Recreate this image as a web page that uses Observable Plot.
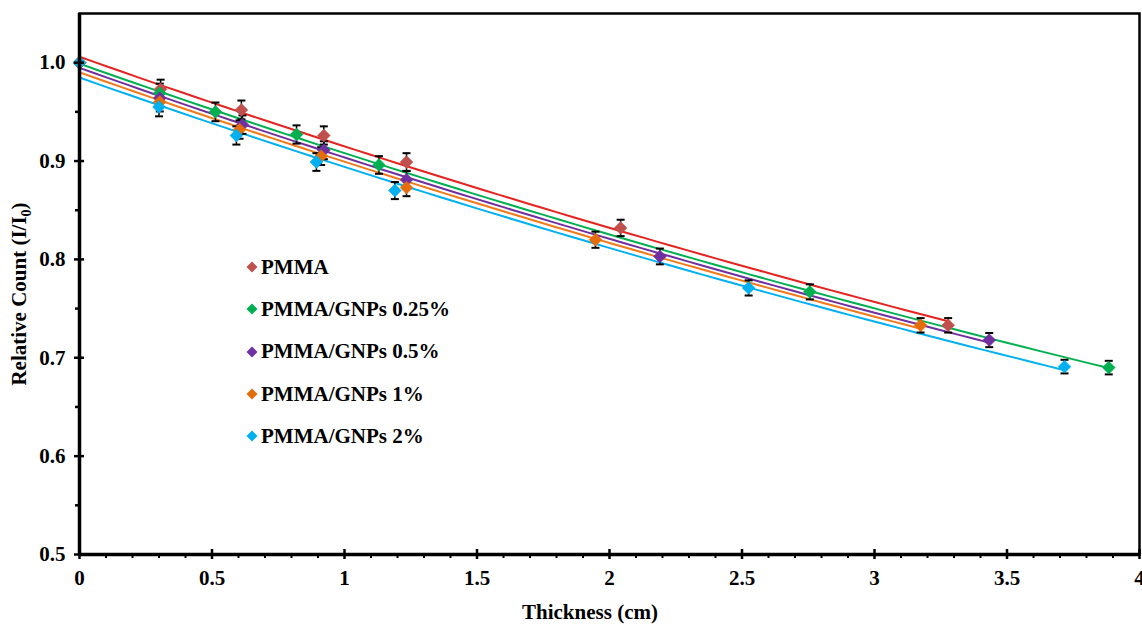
<!DOCTYPE html>
<html><head><meta charset="utf-8">
<script src="https://cdn.jsdelivr.net/npm/d3@7"></script>
<script src="https://cdn.jsdelivr.net/npm/@observablehq/plot@0.6"></script>
<style>
body{margin:0;background:#fff;}
#wrap{position:relative;width:1142px;height:627px;overflow:hidden;font-family:"Liberation Serif","Times New Roman",serif;}
#legend{position:absolute;left:246px;top:246px;}
.item{height:42.3px;display:flex;align-items:center;font-weight:bold;font-size:21px;color:#000;}
.item svg{margin-right:3px;}
</style></head><body><div id="wrap"><div id="legend"></div></div>
<script>
// ---- data ----
const series = ["PMMA", "PMMA/GNPs 0.25%", "PMMA/GNPs 0.5%", "PMMA/GNPs 1%", "PMMA/GNPs 2%"];
const markerColors = ["#C0504D", "#00B050", "#7030A0", "#E46C0A", "#00B0F0"];
const lineColors = ["#E5231F", "#00B050", "#7030A0", "#F07A1A", "#00B0F0"];

const thicknessPMMA = [0, 0.306, 0.611, 0.922, 1.234, 2.042, 3.278];
const countPMMA     = [1.0, 0.973, 0.952, 0.926, 0.899, 0.832, 0.733];
const thicknessG025 = [0, 0.303, 0.513, 0.819, 1.130, 2.756, 3.884];
const countG025     = [1.0, 0.969, 0.950, 0.927, 0.896, 0.767, 0.690];
const thicknessG05  = [0, 0.303, 0.615, 0.922, 1.234, 2.190, 3.433];
const countG05      = [1.0, 0.964, 0.937, 0.911, 0.881, 0.803, 0.718];
const thicknessG1   = [0, 0.303, 0.604, 0.912, 1.234, 1.947, 3.174];
const countG1       = [1.0, 0.960, 0.932, 0.905, 0.873, 0.820, 0.733];
const thicknessG2   = [0, 0.300, 0.592, 0.894, 1.190, 2.525, 3.717];
const countG2       = [1.0, 0.955, 0.926, 0.899, 0.870, 0.771, 0.691];
const relError = 0.01; // error bars, fraction of value

const xMajor = [0, 0.5, 1, 1.5, 2, 2.5, 3, 3.5, 4];
const xTickLabels = ["0", "0.5", "1", "1.5", "2", "2.5", "3", "3.5", "4"];
const yMajor = [0.5, 0.6, 0.7, 0.8, 0.9, 1.0];
const yTickLabels = ["0.5", "0.6", "0.7", "0.8", "0.9", "1.0"];
// ---- end data ----

const xsAll = [thicknessPMMA, thicknessG025, thicknessG05, thicknessG1, thicknessG2];
const ysAll = [countPMMA, countG025, countG05, countG1, countG2];

const points = [];
series.forEach((s, i) => xsAll[i].forEach((x, j) => points.push({series: s, x, y: ysAll[i][j]})));
const errs = points.filter(d => d.x > 0).map(d => ({...d, lo: d.y * (1 - relError), hi: d.y * (1 + relError)}));

// exponential (Excel-style) trendline fitted on each series
const fits = [];
series.forEach((s, i) => {
  const xs = xsAll[i], ly = ysAll[i].map(Math.log);
  const mx = d3.mean(xs), my = d3.mean(ly);
  const b = d3.sum(xs, (x, k) => (x - mx) * (ly[k] - my)) / d3.sum(xs, x => (x - mx) ** 2);
  const a = my - b * mx;
  const xmax = d3.max(xs);
  d3.range(0, 61).forEach(k => { const x = xmax * k / 60; fits.push({series: s, x, y: Math.exp(a + b * x)}); });
});

const xMinor = d3.range(0, 41).map(k => k / 10).filter(v => Math.abs(v * 2 - Math.round(v * 2)) > 1e-6);
const yMinor = [0.55, 0.65, 0.75, 0.85, 0.95];

const cap = {draw(ctx) { ctx.moveTo(-4, 0); ctx.lineTo(4, 0); }};
const xFmt = v => xTickLabels[xMajor.indexOf(v)];
const yFmt = v => yTickLabels[yMajor.indexOf(v)];

const chart = Plot.plot({
  width: 1142, height: 627,
  marginLeft: 79, marginRight: 3, marginTop: 13, marginBottom: 73,
  style: {fontFamily: "Liberation Serif, Times New Roman, serif", color: "#000", background: "#fff"},
  x: {domain: [0, 4]},
  y: {domain: [0.5, 1.05]},
  marks: [
    ...series.map((s, i) => Plot.line(fits.filter(d => d.series === s), {x: "x", y: "y", stroke: lineColors[i], strokeWidth: 2})),
    Plot.ruleX(errs, {x: "x", y1: "lo", y2: "hi", stroke: "black", strokeWidth: 1.5}),
    Plot.dot(errs, {x: "x", y: "lo", symbol: cap, r: 4, stroke: "black", strokeWidth: 2}),
    Plot.dot(errs, {x: "x", y: "hi", symbol: cap, r: 4, stroke: "black", strokeWidth: 2}),
    ...series.map((s, i) => Plot.dot(points.filter(d => d.series === s), {x: "x", y: "y", symbol: "diamond2", r: 5.8, fill: markerColors[i], stroke: markerColors[i], strokeWidth: 0.5})),
    Plot.frame({stroke: "black", strokeWidth: 2.5}),
    Plot.ruleX([0], {stroke: "black", strokeWidth: 3.5}),
    Plot.ruleY([0.5], {stroke: "black", strokeWidth: 3.5}),
    Plot.axisY({ticks: yMajor, tickSize: 10, dx: 5, text: null, label: null, strokeWidth: 2.5}),
    Plot.axisY({ticks: yMinor, tickSize: 4, text: null, label: null, strokeWidth: 2.5}),
    Plot.axisY({ticks: yMajor, tickSize: 0, tickPadding: 14, tickFormat: yFmt, label: null, fontSize: 21, fontWeight: "bold"}),
    Plot.axisX({ticks: xMajor, tickSize: 10, dy: -5, text: null, label: null, strokeWidth: 2.5}),
    Plot.axisX({ticks: xMinor, tickSize: 4, text: null, label: null, strokeWidth: 2}),
    Plot.axisX({ticks: xMajor, tickSize: 0, tickPadding: 16, tickFormat: xFmt, label: null, fontSize: 21, fontWeight: "bold"})
  ]
});

const svg = d3.select(chart);
const yl = svg.append("text")
  .attr("transform", "translate(26,294) rotate(-90)")
  .attr("text-anchor", "middle")
  .attr("font-family", "Liberation Serif, Times New Roman, serif")
  .attr("font-weight", "bold").attr("font-size", 21).attr("fill", "#000");
yl.append("tspan").text("Relative Count (I/I");
yl.append("tspan").attr("font-size", 14).attr("dy", 5).text("0");
yl.append("tspan").attr("dy", -5).text(")");
svg.append("text")
  .attr("x", 590).attr("y", 619)
  .attr("text-anchor", "middle")
  .attr("font-family", "Liberation Serif, Times New Roman, serif")
  .attr("font-weight", "bold").attr("font-size", 21).attr("fill", "#000")
  .text("Thickness (cm)");

document.getElementById("wrap").prepend(chart);

const legend = d3.select("#legend");
series.forEach((s, i) => {
  const it = legend.append("div").attr("class", "item");
  const sv = it.append("svg").attr("width", 12).attr("height", 12);
  sv.append("path").attr("d", "M6,0.5L11.5,6L6,11.5L0.5,6Z").attr("fill", markerColors[i]);
  it.append("span").text(s);
});
</script>
</body></html>
